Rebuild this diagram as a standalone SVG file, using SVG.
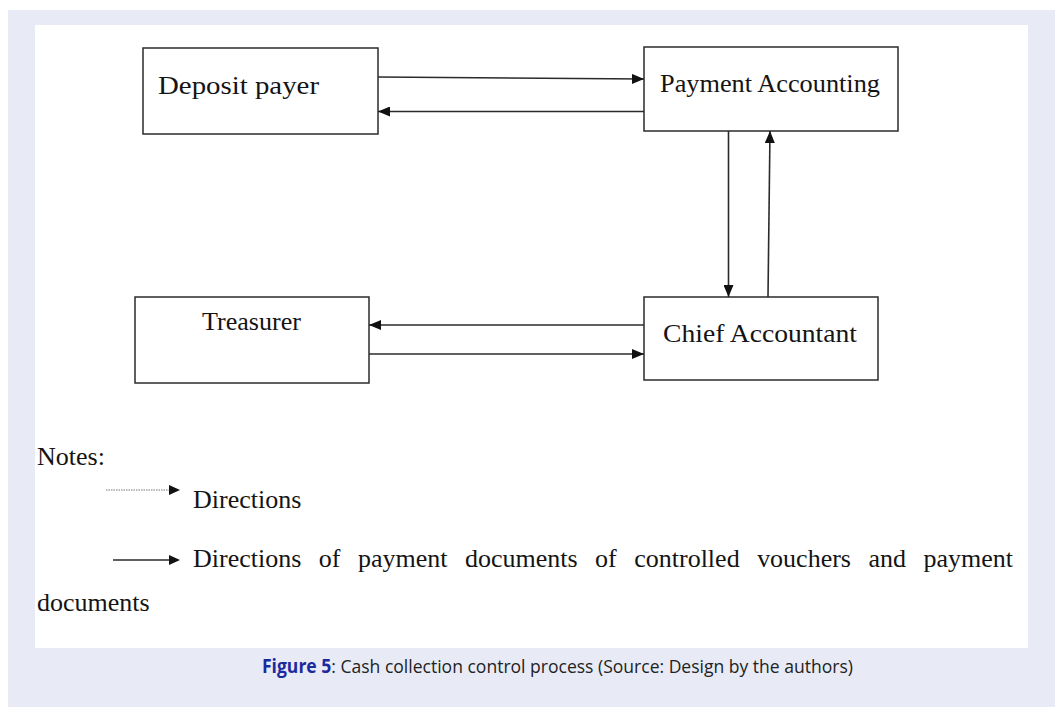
<svg xmlns="http://www.w3.org/2000/svg" width="1058" height="710" viewBox="0 0 1058 710">
  <style>
    .box { fill: #ffffff; stroke: #2b2b2b; stroke-width: 1.5; }
    .lbl { font-family: "Liberation Serif", "Times New Roman", serif; font-size: 26px; fill: #141414; }
    .edge { stroke: #2b2b2b; stroke-width: 1.6; fill: none; marker-end: url(#head); }
    .cap { font-family: "Open Sans", "Noto Sans", sans-serif; font-size: 19px; fill: #222222; }
  </style>
  <defs>
    <marker id="head" viewBox="0 0 12 10" refX="12" refY="5" markerWidth="12" markerHeight="10" markerUnits="userSpaceOnUse" orient="auto">
      <path d="M0,0 L12,5 L0,10 Z" fill="#111111"/>
    </marker>
  </defs>

  <!-- figure panel -->
  <rect x="8" y="10" width="1047" height="697" fill="#e8ebf6"/>
  <rect x="35" y="25" width="993" height="623" fill="#ffffff"/>

  <!-- nodes -->
  <g id="deposit-payer">
    <rect class="box" x="143" y="48" width="235" height="86"/>
    <text class="lbl" x="158" y="94" textLength="161" lengthAdjust="spacingAndGlyphs">Deposit payer</text>
  </g>
  <g id="payment-accounting">
    <rect class="box" x="644" y="47" width="254" height="84"/>
    <text class="lbl" x="660" y="92" textLength="220" lengthAdjust="spacingAndGlyphs">Payment Accounting</text>
  </g>
  <g id="treasurer">
    <rect class="box" x="135" y="297" width="234" height="86"/>
    <text class="lbl" x="202" y="330" textLength="99" lengthAdjust="spacingAndGlyphs">Treasurer</text>
  </g>
  <g id="chief-accountant">
    <rect class="box" x="644" y="297" width="234" height="83"/>
    <text class="lbl" x="663" y="342" textLength="194" lengthAdjust="spacingAndGlyphs">Chief Accountant</text>
  </g>

  <!-- connectors -->
  <g id="connectors">
    <line class="edge" x1="378" y1="77" x2="644" y2="79"/>
    <line class="edge" x1="644" y1="111.5" x2="378" y2="111.5"/>
    <line class="edge" x1="728.5" y1="131" x2="728.5" y2="297"/>
    <line class="edge" x1="768" y1="297" x2="770" y2="131"/>
    <line class="edge" x1="644" y1="325" x2="369" y2="325"/>
    <line class="edge" x1="369" y1="354" x2="644" y2="354"/>
  </g>

  <!-- legend -->
  <g id="notes">
    <text class="lbl" x="37" y="465">Notes:</text>
    <line x1="106" y1="490" x2="170" y2="490" stroke="#777777" stroke-width="1" stroke-dasharray="1.5,1"/>
    <path d="M169,485 L180,490 L169,495 Z" fill="#111111"/>
    <text class="lbl" x="193" y="508">Directions</text>
    <line x1="113" y1="560" x2="170" y2="560" stroke="#2b2b2b" stroke-width="1.6"/>
    <path d="M169,555 L180,560 L169,565 Z" fill="#111111"/>
    <text class="lbl" x="193" y="567" textLength="820" lengthAdjust="spacing" word-spacing="11">Directions of payment documents of controlled vouchers and payment</text>
    <text class="lbl" x="37" y="611">documents</text>
  </g>

  <!-- caption -->
  <text class="cap" x="262" y="673" textLength="591" lengthAdjust="spacingAndGlyphs"><tspan font-weight="bold" fill="#1b2a9c">Figure 5</tspan>: Cash collection control process (Source: Design by the authors)</text>
</svg>
